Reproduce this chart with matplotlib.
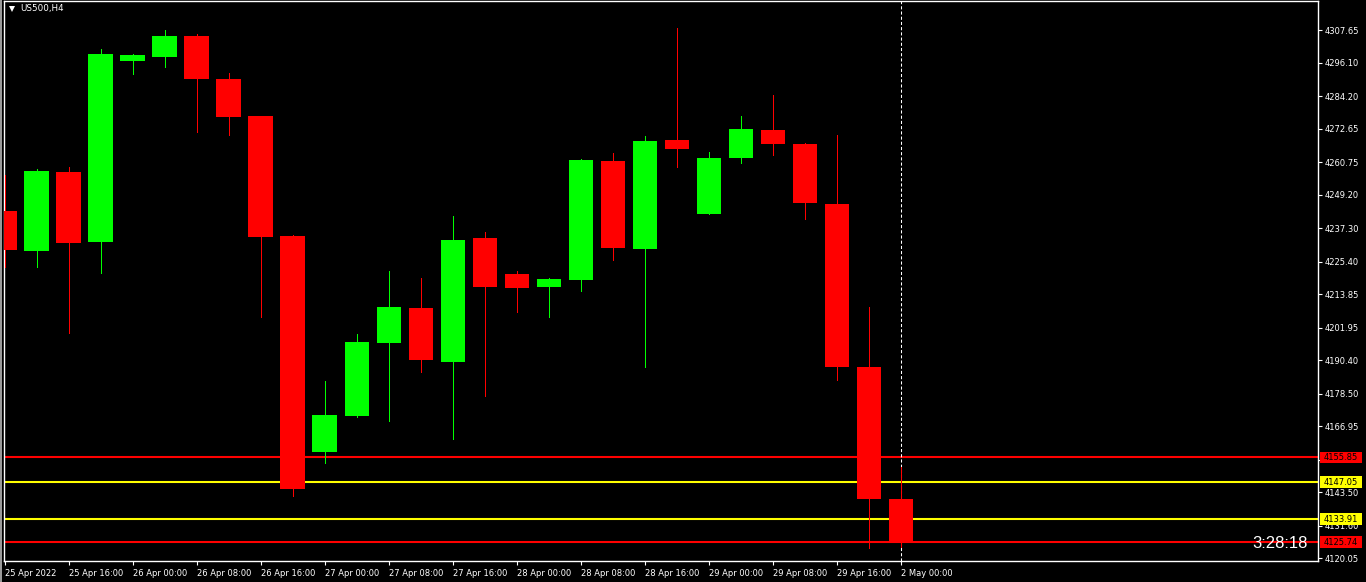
import matplotlib
matplotlib.use("Agg")
import matplotlib.pyplot as plt
from matplotlib.transforms import blended_transform_factory
from matplotlib.patches import Rectangle
from matplotlib.lines import Line2D

# ---------------- data ----------------
symbol_title = "US500,H4"
opens  = [4243.46, 4229.24, 4257.33, 4232.44, 4296.80, 4298.23, 4305.69, 4290.40, 4277.24, 4234.57,
          4157.76, 4170.56, 4196.52, 4208.97, 4189.76, 4233.86, 4221.06, 4216.43, 4218.92, 4261.24,
          4229.95, 4268.71, 4242.39, 4262.31, 4272.27, 4267.29, 4245.95, 4187.98, 4141.04]
highs  = [4256.26, 4258.40, 4259.11, 4301.07, 4299.40, 4307.83, 4306.41, 4292.54, 4277.24, 4234.93,
          4183.01, 4199.72, 4222.12, 4219.63, 4241.68, 4235.99, 4222.12, 4219.63, 4261.90, 4264.09,
          4270.13, 4308.54, 4264.44, 4277.24, 4284.71, 4267.65, 4270.49, 4209.32, 4152.42]
lows   = [4223.55, 4223.55, 4200.08, 4221.41, 4292.29, 4294.67, 4271.55, 4270.49, 4205.77, 4142.11,
          4153.84, 4170.20, 4168.78, 4186.21, 4162.38, 4177.67, 4207.54, 4205.77, 4215.01, 4226.04,
          4187.98, 4259.11, 4242.39, 4260.53, 4263.38, 4240.62, 4183.36, 4123.62, 4124.00]
closes = [4229.59, 4257.69, 4232.08, 4299.29, 4298.94, 4305.69, 4290.40, 4276.89, 4234.21, 4144.60,
          4170.91, 4196.87, 4209.32, 4190.47, 4233.15, 4216.43, 4216.08, 4219.28, 4261.60, 4230.30,
          4268.35, 4265.51, 4262.31, 4272.62, 4267.29, 4246.31, 4187.98, 4141.04, 4125.74]

x_tick_idx = [0, 2, 4, 6, 8, 10, 12, 14, 16, 18, 20, 22, 24, 26, 28]
x_tick_labels = ["25 Apr 2022", "25 Apr 16:00", "26 Apr 00:00", "26 Apr 08:00", "26 Apr 16:00",
                 "27 Apr 00:00", "27 Apr 08:00", "27 Apr 16:00", "28 Apr 00:00", "28 Apr 08:00",
                 "28 Apr 16:00", "29 Apr 00:00", "29 Apr 08:00", "29 Apr 16:00", "2 May 00:00"]
y_ticks = [4307.65, 4296.10, 4284.20, 4272.65, 4260.75, 4249.20, 4237.30, 4225.40, 4213.85,
           4201.95, 4190.40, 4178.50, 4166.95, 4155.05, 4143.50, 4131.60, 4120.05]

level_values = [4155.85, 4147.05, 4133.91, 4125.74]
level_colors = ["#FF0000", "#FFFF00", "#FFFF00", "#FF0000"]
timer_text = "3:28:18"
bid_price = 4125.74
separator_idx = 28

# ---------------- figure ----------------
W, H = 1366, 582
fig = plt.figure(figsize=(W / 100, H / 100), dpi=100, facecolor="black")
ax = fig.add_axes([4 / W, 21 / H, 1314 / W, 560 / H])
ax.set_facecolor("black")

UP, DOWN = "#00FF00", "#FF0000"
body_w = 0.78
for i, (o, h, l, c) in enumerate(zip(opens, highs, lows, closes)):
    col = UP if c >= o else DOWN
    ax.vlines(i, l, h, color=col, lw=0.72, zorder=4, antialiased=False)
    ax.bar(i, abs(c - o), bottom=min(o, c), width=body_w, color=col, linewidth=0, zorder=5)

for v, col in zip(level_values, level_colors):
    ax.axhline(v, color=col, lw=1.5, zorder=2)

ax.axvline(separator_idx, color="white", lw=0.75, linestyle=(0, (3, 2)), zorder=3)

ax.set_xlim(-0.03, 41.03)
ax.set_ylim(4118.99, 4318.14)

for s in ax.spines.values():
    s.set_color("white")
    s.set_linewidth(1.0)

ax.yaxis.tick_right()
ax.set_yticks(y_ticks)
ax.set_yticklabels([f"{v:.2f}" for v in y_ticks])
ax.set_xticks(x_tick_idx)
ax.set_xticklabels(x_tick_labels, ha="left")
ax.tick_params(axis="both", colors="white", labelcolor="white", labelsize=6,
               length=3, width=0.8, direction="out")
ax.tick_params(axis="y", pad=1.5)
ax.tick_params(axis="x", pad=2.5)

# price label boxes on the right
bt = blended_transform_factory(ax.transAxes, ax.transData)
box_x0 = 1 + 2 / 1314
box_w = 42 / 1314
for v, col in zip(level_values, level_colors):
    r = Rectangle((box_x0, v - 2.0), box_w, 4.0, transform=bt, facecolor=col,
                  edgecolor="none", clip_on=False, zorder=10)
    ax.add_patch(r)
    ax.text(box_x0 + box_w / 2, v, f"{v:.2f}", transform=bt, ha="center", va="center",
            fontsize=6, color="black", clip_on=False, zorder=11)

# countdown timer
ax.annotate(timer_text, xy=(1 - 10 / 1314, bid_price), xycoords=("axes fraction", "data"),
            xytext=(0, -6), textcoords="offset pixels", ha="right", va="baseline",
            fontsize=12, color="white", family="Liberation Sans", zorder=12)

# title with triangle
fig.text(20 / W, 1 - 9 / H, symbol_title, fontsize=6.3, color="white", va="center", ha="left")
fig.add_artist(Line2D([11.5 / W], [1 - 9 / H], marker="v", markersize=4.5, color="white",
                      markeredgewidth=0, transform=fig.transFigure))
fig.add_artist(Rectangle((0, 0), 2 / W, 1, transform=fig.transFigure, facecolor="#9a9a9a",
                         edgecolor="none"))

fig.savefig("out.png", dpi=100, facecolor="black")
